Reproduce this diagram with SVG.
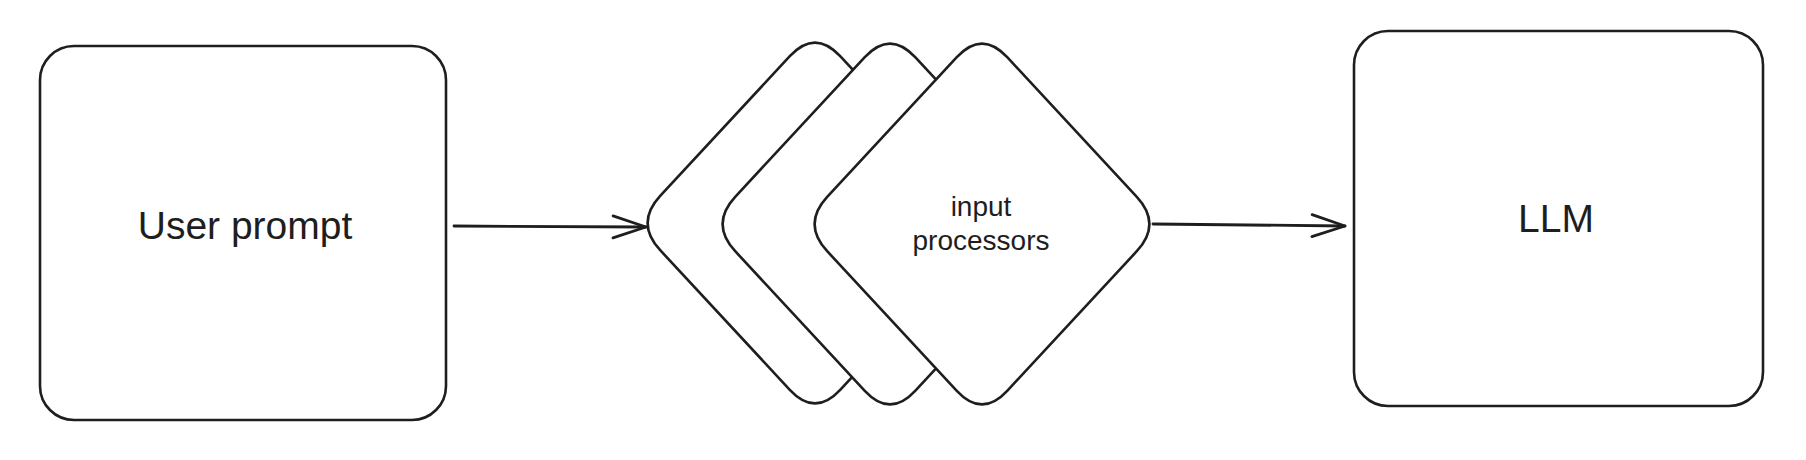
<svg xmlns="http://www.w3.org/2000/svg" width="1806" height="460" viewBox="0 0 1806 460">
  <style>
    .shape { fill: #ffffff; stroke: #1e1e1e; stroke-width: 2.6; stroke-linejoin: round; }
    .edge { fill: none; stroke: #1e1e1e; stroke-width: 2.8; stroke-linecap: round; }
    .label { font-family: "Liberation Sans", Arial, sans-serif; fill: #1e1e1e; text-anchor: middle; }
    .big { font-size: 39px; }
    .small { font-size: 28px; }
  </style>
  <defs>
    <marker id="arrow" markerUnits="userSpaceOnUse" markerWidth="40" markerHeight="30" viewBox="-36 -15 40 30" refX="0" refY="0" orient="auto">
      <path d="M -33 -11 L 0 0 L -33 11" fill="none" stroke="#1e1e1e" stroke-width="2.8" stroke-linecap="round" stroke-linejoin="round"/>
    </marker>
    <path id="diamond" d="M 25.2 -166.8 L 154.8 -27.2 Q 180 0 154.8 27.2 L 25.2 166.8 Q 0 194 -25.2 166.8 L -154.8 27.2 Q -180 0 -154.8 -27.2 L -25.2 -166.8 Q 0 -194 25.2 -166.8 Z"/>
  </defs>
  <rect width="1806" height="460" fill="#ffffff"/>

  <g id="user-prompt">
    <rect class="shape" x="40" y="46" width="406" height="374" rx="34" ry="34"/>
    <text class="label big" x="245" y="239">User prompt</text>
  </g>

  <g id="input-processors">
    <use href="#diamond" class="shape" transform="translate(815 223)"/>
    <use href="#diamond" class="shape" transform="translate(890 224)"/>
    <use href="#diamond" class="shape" transform="translate(982 224)"/>
    <text class="label small" x="981" y="216">input</text>
    <text class="label small" x="981" y="250">processors</text>
  </g>

  <g id="llm">
    <rect class="shape" x="1354" y="31" width="409" height="375" rx="34" ry="34"/>
    <text class="label big" x="1556" y="232">LLM</text>
  </g>

  <g id="connectors">
    <path class="edge" d="M 454 226 L 646 227" marker-end="url(#arrow)"/>
    <path class="edge" d="M 1153 224 L 1345 226" marker-end="url(#arrow)"/>
  </g>
</svg>
